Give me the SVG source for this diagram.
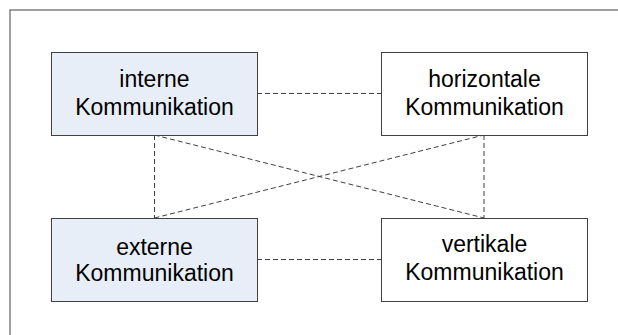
<svg xmlns="http://www.w3.org/2000/svg" width="618" height="335" viewBox="0 0 618 335">
<style>
.frame{fill:none;stroke:#808080;stroke-width:1.5}
.box{stroke:#404040;stroke-width:1}
.in{fill:#E8EEF8}
.out{fill:#FFFFFF}
.c{fill:none;stroke:#404040;stroke-width:1;stroke-dasharray:5,3}
text{font-family:"Liberation Sans",Arial,sans-serif;font-size:23px;fill:#000;text-anchor:middle}
</style>
<rect width="618" height="335" fill="#fff"/>
<rect class="frame" x="10" y="10" width="640" height="360"/>
<g id="connectors">
<line class="c" x1="257" y1="93.5" x2="381" y2="93.5"/>
<line class="c" x1="257" y1="259.5" x2="381" y2="259.5"/>
<line class="c" x1="154.5" y1="135" x2="154.5" y2="218"/>
<line class="c" x1="484" y1="135" x2="484" y2="218"/>
<line class="c" x1="154.5" y1="135" x2="484" y2="218"/>
<line class="c" x1="154.5" y1="218" x2="484" y2="135"/>
</g>
<g id="interne">
<rect class="box in" x="51.5" y="52.5" width="206" height="83"/>
<text x="154.5" y="87">interne</text>
<text x="154.5" y="115">Kommunikation</text>
</g>
<g id="horizontale">
<rect class="box out" x="381.5" y="52.5" width="206" height="83"/>
<text x="484.5" y="87">horizontale</text>
<text x="484.5" y="115">Kommunikation</text>
</g>
<g id="externe">
<rect class="box in" x="51.5" y="218.5" width="206" height="83"/>
<text x="154.5" y="254.5">externe</text>
<text x="154.5" y="281">Kommunikation</text>
</g>
<g id="vertikale">
<rect class="box out" x="381.5" y="218.5" width="206" height="83"/>
<text x="484.5" y="251.5">vertikale</text>
<text x="484.5" y="280">Kommunikation</text>
</g>
</svg>
